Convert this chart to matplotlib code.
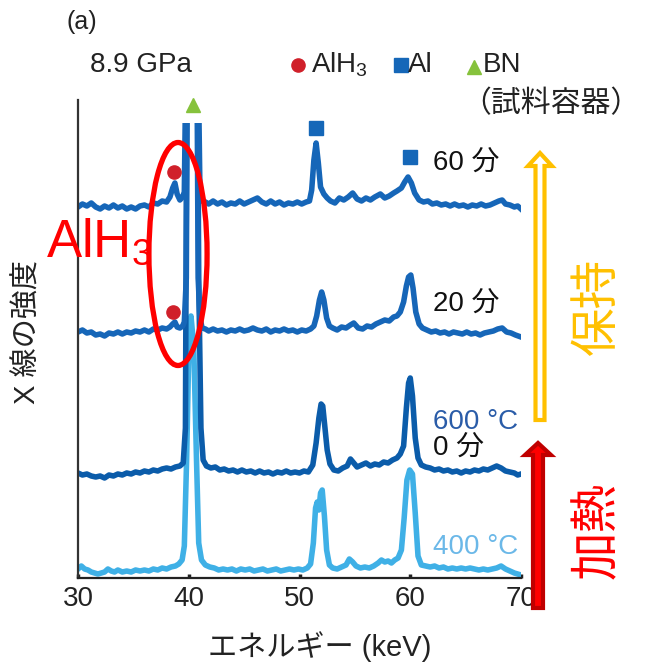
import matplotlib
matplotlib.use('Agg')
import matplotlib.pyplot as plt
from matplotlib.lines import Line2D
from matplotlib.patches import Ellipse, FancyArrow
from matplotlib.transforms import IdentityTransform

plt.rcParams['font.family'] = ['Liberation Sans', 'Noto Sans CJK JP']
plt.rcParams['mathtext.fontset'] = 'custom'
plt.rcParams['mathtext.rm'] = 'Liberation Sans'

# spectra: (energy keV, intensity in arb. units)
trace_60min = [
    (30.0, 371), (30.4, 374), (30.8, 372), (31.2, 375), (31.6, 371), (32.0, 369), (32.4, 372), (32.8, 370),
    (33.2, 373), (33.6, 370), (34.0, 372), (34.4, 369), (34.8, 371), (35.2, 369), (35.6, 372), (36.0, 373),
    (36.4, 371), (36.8, 375), (37.2, 374), (37.6, 377), (38.0, 376), (38.3, 381), (38.55, 390), (38.75, 395),
    (38.95, 384), (39.2, 378), (39.45, 381), (39.6, 386), (39.75, 520), (39.82, 700), (40.78, 700), (40.85, 520),
    (41.0, 395), (41.2, 377), (41.5, 376), (41.8, 374), (42.2, 377), (42.6, 374), (43.0, 376), (43.4, 373),
    (43.8, 375), (44.2, 374), (44.6, 377), (45.0, 374), (45.4, 376), (45.8, 378), (46.2, 380), (46.6, 376),
    (47.0, 374), (47.4, 377), (47.8, 374), (48.2, 376), (48.6, 373), (49.0, 375), (49.4, 374), (49.8, 376),
    (50.2, 374), (50.6, 376), (50.9, 377), (51.1, 388), (51.3, 418), (51.5, 435), (51.7, 415), (51.9, 391),
    (52.2, 384), (52.5, 380), (52.8, 377), (53.2, 375), (53.6, 380), (54.0, 378), (54.4, 381), (54.8, 385),
    (55.2, 379), (55.6, 377), (56.0, 380), (56.4, 378), (56.8, 381), (57.3, 384), (57.7, 380), (58.1, 382),
    (58.5, 385), (58.8, 387), (59.2, 390), (59.5, 396), (59.8, 401), (60.1, 395), (60.4, 385), (60.8, 378),
    (61.2, 376), (61.6, 377), (62.0, 374), (62.4, 375), (62.8, 373), (63.2, 374), (63.6, 372), (64.0, 374),
    (64.4, 372), (64.8, 373), (65.2, 371), (65.6, 373), (66.0, 372), (66.4, 374), (66.8, 372), (67.2, 373),
    (67.6, 375), (68.0, 377), (68.3, 378), (68.6, 374), (69.0, 373), (69.4, 371), (69.7, 372), (70.0, 369),
]
trace_20min = [
    (30.0, 246), (30.4, 248), (30.8, 245), (31.2, 246), (31.6, 243), (32.0, 244), (32.4, 242), (32.8, 245),
    (33.2, 244), (33.6, 246), (34.0, 244), (34.4, 246), (34.8, 245), (35.2, 247), (35.6, 246), (36.0, 248),
    (36.4, 246), (36.8, 249), (37.2, 248), (37.6, 250), (38.0, 249), (38.3, 251), (38.55, 254), (38.75, 256),
    (38.95, 251), (39.2, 250), (39.45, 252), (39.6, 256), (39.78, 300), (39.95, 700), (40.65, 700), (40.85, 300),
    (41.0, 262), (41.2, 250), (41.5, 249), (41.8, 247), (42.2, 249), (42.6, 247), (43.0, 248), (43.4, 246),
    (43.8, 248), (44.2, 247), (44.6, 249), (45.0, 247), (45.4, 248), (45.8, 250), (46.2, 248), (46.6, 247),
    (47.0, 249), (47.4, 246), (47.8, 248), (48.2, 247), (48.6, 249), (49.0, 247), (49.4, 248), (49.8, 246),
    (50.2, 248), (50.6, 247), (51.0, 249), (51.3, 252), (51.55, 262), (51.8, 278), (52.0, 286), (52.2, 278),
    (52.45, 260), (52.7, 252), (53.0, 250), (53.4, 248), (53.8, 251), (54.2, 250), (54.6, 253), (54.9, 255),
    (55.3, 250), (55.7, 249), (56.1, 252), (56.5, 251), (56.9, 254), (57.3, 256), (57.7, 258), (58.1, 257),
    (58.5, 261), (58.8, 262), (59.1, 266), (59.4, 276), (59.65, 292), (59.85, 301), (60.05, 303), (60.25, 290),
    (60.5, 266), (60.8, 254), (61.1, 250), (61.5, 248), (61.9, 246), (62.3, 247), (62.7, 245), (63.1, 246),
    (63.5, 244), (63.9, 246), (64.3, 245), (64.7, 244), (65.1, 246), (65.5, 244), (65.9, 245), (66.3, 243),
    (66.7, 245), (67.1, 246), (67.5, 247), (67.9, 249), (68.3, 250), (68.7, 246), (69.1, 245), (69.5, 243),
    (70.0, 241),
]
trace_0min = [
    (30.0, 105), (30.4, 103), (30.8, 104), (31.2, 102), (31.6, 101), (32.0, 102), (32.4, 100), (32.8, 103),
    (33.2, 102), (33.6, 104), (34.0, 103), (34.4, 105), (34.8, 104), (35.2, 106), (35.6, 105), (36.0, 107),
    (36.4, 106), (36.8, 108), (37.2, 107), (37.6, 109), (38.0, 110), (38.4, 109), (38.8, 111), (39.2, 112),
    (39.5, 115), (39.7, 150), (39.9, 700), (40.7, 700), (40.9, 300), (41.1, 150), (41.3, 118), (41.6, 112),
    (42.0, 110), (42.4, 111), (42.8, 108), (43.2, 109), (43.6, 107), (44.0, 108), (44.4, 106), (44.8, 108),
    (45.2, 106), (45.6, 107), (46.0, 105), (46.4, 107), (46.8, 105), (47.2, 106), (47.6, 104), (48.0, 106),
    (48.4, 105), (48.8, 107), (49.2, 105), (49.6, 106), (50.0, 105), (50.4, 107), (50.8, 106), (51.2, 113),
    (51.5, 135), (51.75, 160), (51.95, 174), (52.1, 172), (52.3, 150), (52.5, 128), (52.75, 114), (53.1, 108),
    (53.5, 107), (53.9, 110), (54.3, 112), (54.6, 119), (54.9, 115), (55.2, 111), (55.6, 113), (56.0, 115),
    (56.4, 112), (56.8, 114), (57.2, 113), (57.6, 116), (58.0, 115), (58.4, 118), (58.8, 120), (59.1, 124),
    (59.4, 132), (59.65, 170), (59.85, 195), (60.0, 200), (60.2, 182), (60.45, 140), (60.7, 120), (61.0, 113),
    (61.4, 111), (61.8, 110), (62.2, 108), (62.6, 109), (63.0, 107), (63.4, 108), (63.8, 106), (64.2, 107),
    (64.6, 105), (65.0, 107), (65.4, 106), (65.8, 108), (66.2, 107), (66.6, 109), (67.0, 108), (67.4, 110),
    (67.8, 112), (68.2, 110), (68.6, 107), (69.0, 106), (69.4, 105), (69.7, 103), (70.0, 104),
]
trace_400C = [
    (30.0, 9), (30.3, 12), (30.6, 9), (30.9, 8), (31.2, 6), (31.5, 5), (31.8, 4), (32.1, 5),
    (32.4, 6), (32.7, 9), (33.0, 7), (33.3, 6), (33.6, 8), (34.0, 6), (34.4, 7), (34.8, 6),
    (35.2, 8), (35.6, 7), (36.0, 8), (36.4, 7), (36.8, 9), (37.2, 8), (37.6, 10), (38.0, 9),
    (38.4, 11), (38.8, 12), (39.1, 14), (39.4, 18), (39.6, 32), (39.8, 115), (40.0, 225), (40.2, 262),
    (40.45, 232), (40.7, 118), (40.9, 35), (41.15, 18), (41.5, 13), (41.9, 11), (42.3, 10), (42.7, 8),
    (43.1, 9), (43.5, 8), (43.9, 9), (44.3, 7), (44.7, 9), (45.1, 8), (45.5, 9), (45.9, 7),
    (46.3, 8), (46.7, 9), (47.1, 7), (47.5, 8), (47.9, 9), (48.3, 7), (48.7, 8), (49.1, 9),
    (49.5, 8), (49.9, 9), (50.3, 8), (50.7, 10), (51.0, 14), (51.25, 35), (51.45, 70), (51.6, 76),
    (51.75, 68), (51.9, 85), (52.05, 88), (52.25, 62), (52.45, 28), (52.7, 13), (53.0, 10), (53.4, 9),
    (53.8, 11), (54.2, 13), (54.5, 19), (54.8, 16), (55.1, 12), (55.5, 10), (55.9, 11), (56.3, 10),
    (56.7, 12), (57.1, 15), (57.4, 18), (57.7, 16), (58.0, 17), (58.3, 15), (58.6, 18), (58.9, 20),
    (59.2, 28), (59.45, 60), (59.7, 98), (59.95, 108), (60.2, 104), (60.45, 65), (60.7, 22), (61.0, 13),
    (61.4, 12), (61.8, 11), (62.2, 12), (62.6, 10), (63.0, 11), (63.4, 9), (63.8, 10), (64.2, 9),
    (64.6, 10), (65.0, 9), (65.4, 10), (65.8, 9), (66.2, 8), (66.6, 9), (67.0, 8), (67.4, 9),
    (67.8, 10), (68.2, 12), (68.6, 9), (69.0, 7), (69.4, 5), (69.7, 4), (70.0, 3),
]

# peak markers (energy, height)
alh3_marks = [(38.65, 406), (38.6, 266)]
al_marks = [(51.5, 450), (60.0, 421)]
bn_marks = [(40.4, 473)]

xticks = [30, 40, 50, 60, 70]

fig = plt.figure(figsize=(6.48, 6.62), dpi=100)
W, H = 648, 662


def fx(px):
    return px / W


def fy(py):
    return 1 - py / H


ax = fig.add_axes([fx(78), fy(578), (521 - 78) / W, (578 - 123) / H])
ax.set_xlim(30, 70)
ax.set_ylim(0, 455)

for data, col in [(trace_400C, '#3fb0e6'), (trace_0min, '#0b5caa'),
                  (trace_20min, '#1666b8'), (trace_60min, '#1666b8')]:
    xs, ys = zip(*data)
    ax.plot(xs, ys, color=col, lw=4, solid_joinstyle='round')

mx, my = zip(*alh3_marks)
ax.plot(mx, my, 'o', color='#d0202a', ms=9.5, clip_on=False, zorder=5)
mx, my = zip(*al_marks)
ax.plot(mx, my, 's', color='#1567b8', ms=9.5, clip_on=False, zorder=5)
mx, my = zip(*bn_marks)
ax.plot(mx, my, '^', color='#86c23c', ms=10.5, clip_on=False, zorder=5)

ax.add_patch(Ellipse((39.03, 324), 5.25, 223, fill=False, ec='#ff0000', lw=3.8, zorder=6))

for s in ['top', 'right', 'left']:
    ax.spines[s].set_visible(False)
ax.spines['bottom'].set_linewidth(1.6)
ax.spines['bottom'].set_color('#222222')
ax.plot([0, 0], [0, 478 / 455], transform=ax.transAxes, color='#333333', lw=1.6, clip_on=False)
ax.set_yticks([])
ax.set_xticks(xticks)
ax.tick_params(axis='x', direction='in', length=3, width=2.5, labelsize=20, pad=6, colors='#222222')

# texts
fig.text(fx(82), fy(22), '(a)', ha='center', va='center', fontsize=18, color='#222222')
fig.text(fx(90), fy(65), '8.9 GPa', ha='left', va='center', fontsize=20, color='#222222')
fig.add_artist(Line2D([fx(298)], [fy(65)], marker='o', color='#d0202a', ms=9.5, transform=fig.transFigure))
fig.text(fx(311), fy(65), r'AlH$_{\mathregular{3}}$', ha='left', va='center', fontsize=20, color='#222222')
fig.add_artist(Line2D([fx(401)], [fy(65)], marker='s', color='#1567b8', ms=9.5, transform=fig.transFigure))
fig.text(fx(408), fy(65), 'Al', ha='left', va='center', fontsize=20, color='#222222')
fig.add_artist(Line2D([fx(474)], [fy(67)], marker='^', color='#86c23c', ms=10.5, transform=fig.transFigure))
fig.text(fx(483), fy(65), 'BN', ha='left', va='center', fontsize=20, color='#222222')
fig.text(fx(461), fy(104), '（試料容器）', ha='left', va='center', fontsize=21.5, color='#222222')

fig.text(fx(433), fy(163), '60 分', ha='left', va='center', fontsize=20, color='#111111')
fig.text(fx(433), fy(304), '20 分', ha='left', va='center', fontsize=20, color='#111111')
fig.text(fx(433), fy(422), '600 °C', ha='left', va='center', fontsize=20, color='#2a5ca8')
fig.text(fx(433), fy(448), '0 分', ha='left', va='center', fontsize=20, color='#111111')
fig.text(fx(433), fy(547), '400 °C', ha='left', va='center', fontsize=20, color='#6bb8e8')

fig.text(fx(46), fy(257), r'AlH$_{\mathregular{3}}$', ha='left', va='baseline', fontsize=38, color='#ff0000')

fig.text(fx(28), fy(332), 'X 線の強度', ha='center', va='center', rotation=90, fontsize=21, color='#222222')
fig.text(fx(320), fy(647), 'エネルギー (keV)', ha='center', va='center', fontsize=21, color='#222222')

# process arrows (pixel coordinates)
fig.add_artist(FancyArrow(540, H - 420, 0, 267 - 13, width=9, head_width=24, head_length=13,
                          length_includes_head=False, fc='white', ec='#ffc000', lw=3,
                          transform=IdentityTransform(), zorder=10))
fig.add_artist(FancyArrow(538, H - 608, 0, 165 - 12, width=10, head_width=26, head_length=12,
                          length_includes_head=False, fc='#ff0000', ec='#c00000', lw=3,
                          transform=IdentityTransform(), zorder=10))
fig.text(fx(598), fy(306), '保持', ha='center', va='center', rotation=90, fontsize=35, color='#ffc000')
fig.text(fx(598), fy(530), '加熱', ha='center', va='center', rotation=90, fontsize=35, color='#ff0000')

fig.savefig('out.png', dpi=100)
